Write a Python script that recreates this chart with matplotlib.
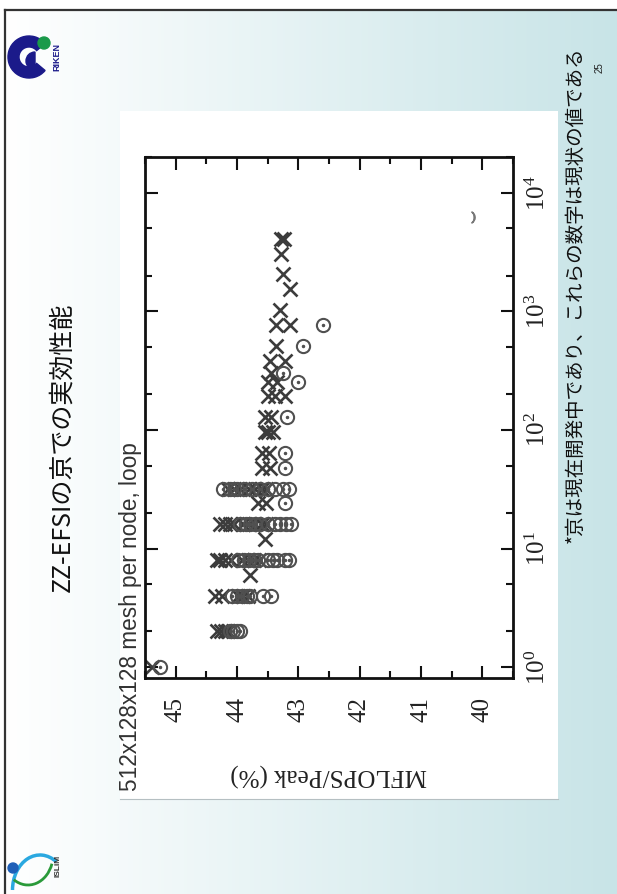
import numpy as np
import matplotlib
matplotlib.use('Agg')
import matplotlib.pyplot as plt
from matplotlib.colors import LinearSegmentedColormap
from matplotlib.patches import Rectangle, Circle, Wedge, Arc
from matplotlib.ticker import LogLocator, MultipleLocator, NullFormatter

plt.rcParams['font.family'] = 'Liberation Serif'
plt.rcParams['mathtext.fontset'] = 'stix'

# texts
slide_title = 'ZZ-EFSIの京での実効性能'
chart_title = '512x128x128 mesh per node, loop'
value_label = 'MFLOPS/Peak (%)'
footnote = '*京は現在開発中であり、これらの数字は現状の値である'
page_no = '25'

# data: nodes vs MFLOPS/Peak (%)
cross_nodes = [1,
               2, 2, 2, 2,
               4, 4, 4, 4, 4,
               6,
               8, 8, 8, 8, 8, 8, 8, 8,
               12,
               16, 16, 16, 16, 16, 16, 16, 16, 16,
               24, 24,
               32, 32, 32, 32, 32, 32, 32,
               48, 48,
               64, 64,
               96, 96, 96,
               128, 128,
               192, 192, 192,
               256, 256,
               300,
               384, 384,
               512,
               768, 768,
               1024, 1536, 2048, 3072,
               4096, 4096]
cross_pct = [45.38,
             44.32, 44.26, 44.2, 44.15,
             44.36, 44.24, 43.98, 43.9, 43.82,
             43.79,
             44.33, 44.27, 44.2, 44.1, 43.92, 43.82, 43.72, 43.64,
             43.55,
             44.28, 44.2, 44.12, 44.05, 43.9, 43.8, 43.7, 43.6, 43.52,
             43.66, 43.52,
             44.15, 44.05, 43.95, 43.8, 43.7, 43.6, 43.52,
             43.6, 43.47,
             43.6, 43.48,
             43.55, 43.5, 43.42,
             43.55, 43.45,
             43.5, 43.38, 43.22,
             43.5, 43.34,
             43.44,
             43.46, 43.22,
             43.37,
             43.37, 43.14,
             43.3, 43.14, 43.25, 43.28,
             43.28, 43.24]

circle_nodes = [1,
                2, 2, 2, 2,
                4, 4, 4, 4, 4, 4, 4,
                8, 8, 8, 8, 8, 8, 8, 8, 8, 8,
                16, 16, 16, 16, 16, 16, 16, 16, 16, 16,
                24,
                32, 32, 32, 32, 32, 32, 32, 32, 32, 32, 32,
                48, 64, 128, 256, 300, 512, 768]
circle_pct = [45.26,
              44.12, 44.06, 44.0, 43.95,
              44.08, 44.0, 43.92, 43.84, 43.78, 43.58, 43.45,
              43.98, 43.88, 43.8, 43.72, 43.65, 43.5, 43.42, 43.35, 43.22, 43.15,
              43.95, 43.85, 43.78, 43.7, 43.62, 43.5, 43.38, 43.3, 43.2, 43.12,
              43.22,
              44.23, 44.12, 44.05, 44.0, 43.88, 43.75, 43.62, 43.5, 43.38, 43.25, 43.15,
              43.22, 43.22, 43.19, 43.01, 43.25, 42.92, 42.6]

stray_nodes = [6200]
stray_pct = [40.15]

W, H = 617, 894
fig = plt.figure(figsize=(W / 100, H / 100), dpi=100)

# slide background in pixel coordinates
bg = fig.add_axes([0, 0, 1, 1])
grad = np.linspace(0, 1, 256)[None, :]
cmap = LinearSegmentedColormap.from_list('slide', ['#ffffff', '#c8e4e7'])
bg.imshow(grad, extent=(5, W, H, 10), aspect='auto', cmap=cmap)
bg.set_xlim(0, W)
bg.set_ylim(H, 0)
bg.axis('off')
bg.plot([5, 5], [10, H], color='#333333', lw=1.6)
bg.plot([5, W], [10, 10], color='#333333', lw=1.6)
bg.add_patch(Rectangle((120, 111), 438, 688, fc='white', ec='none'))
bg.plot([120, 558], [799, 799], color='#b5bfc2', lw=0.8)

# RIKEN logo
bg.add_patch(Wedge((29, 57), 21, 40, 320, width=11, color='#1b1a8a'))
bg.add_patch(Wedge((35, 61), 9, 90, 270, color='#1b1a8a'))
bg.add_patch(Circle((44, 43), 6, color='#1a9a4a'))
bg.text(57, 57, 'RIKEN', rotation=90, fontsize=6.5, fontweight='bold', color='#1b1a8a',
        family='Liberation Sans', ha='center', va='center')

# ISLiM logo
bg.add_patch(Arc((40, 890), 55, 70, theta1=180, theta2=300, color='#2aa8e0', lw=2.5))
bg.add_patch(Arc((28, 855), 50, 60, theta1=20, theta2=120, color='#2a9a3a', lw=2))
bg.add_patch(Circle((13, 868), 5, color='#1f5fb8'))
bg.text(58, 866, 'ISLiM', rotation=90, fontsize=6, fontweight='bold', color='#333333',
        family='Liberation Sans', ha='center', va='center')

# slide texts
cjk = ['Noto Sans CJK JP', 'DejaVu Sans']
bg.text(62, 447, slide_title, rotation=90, fontsize=18, family=cjk,
        ha='center', va='center', color='#111111')
bg.text(575, 295, footnote, rotation=90, fontsize=14, family=cjk,
        ha='center', va='center', color='#111111')
bg.text(600, 68, page_no, rotation=90, fontsize=7, family='Liberation Sans',
        ha='center', va='center', color='#222222')
bg.text(131, 617, chart_title, rotation=90, fontsize=16.3, family='Liberation Sans',
        ha='center', va='center', color='#333333')

# the chart (drawn turned: percentage runs across, node count runs up)
ax = fig.add_axes([145 / W, 1 - 678 / H, 368 / W, 521 / H])
ax.plot(cross_pct, cross_nodes, ls='none', marker='x', ms=10, mew=1.9, color='#3c3c3c')
ax.plot(circle_pct, circle_nodes, ls='none', marker='o', ms=9.5, mfc='none', mew=1.5, mec='#505050')
ax.plot(circle_pct, circle_nodes, ls='none', marker='.', ms=3, color='#505050')
ax.plot(stray_pct, stray_nodes, ls='none', marker='$)$', ms=8, color='#777777')

ax.set_yscale('log')
ax.set_xlim(45.5, 39.5)
ax.set_ylim(0.81, 2e4)
ax.xaxis.set_major_locator(MultipleLocator(1))
ax.xaxis.set_minor_locator(MultipleLocator(0.5))
ax.yaxis.set_major_locator(LogLocator(base=10, numticks=10))
ax.yaxis.set_minor_locator(LogLocator(base=10, subs=(2.0, 5.0), numticks=10))
ax.yaxis.set_minor_formatter(NullFormatter())
ax.tick_params(which='both', direction='in', top=True, bottom=True, left=True, right=True,
               labelleft=False, labelright=True, width=1.5, color='#111111')
ax.tick_params(which='major', length=9)
ax.tick_params(which='minor', length=5)
ax.tick_params(axis='x', labelrotation=90, pad=14, labelsize=18, labelcolor='#222222')
ax.tick_params(axis='y', labelrotation=90, pad=9, labelsize=18, labelcolor='#222222')
for spine in ax.spines.values():
    spine.set_linewidth(2)
    spine.set_color('#111111')

ax.set_xlabel(value_label, rotation=180, fontsize=18, color='#222222')
ax.xaxis.set_label_coords(0.5, -0.163)
plt.setp(ax.get_yticklabels(), va='center')

fig.savefig('out.png', dpi=100)
